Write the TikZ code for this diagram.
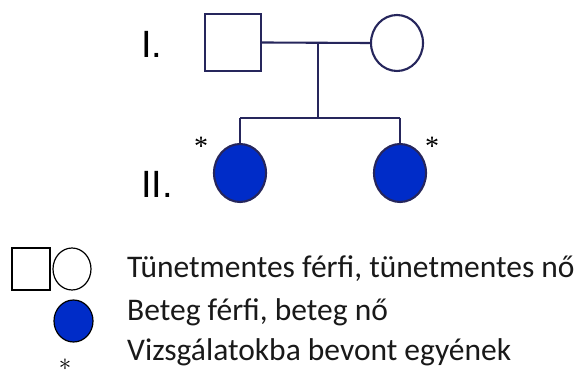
\documentclass[tikz,border=0pt]{standalone}
\usepackage{fontspec}
\usetikzlibrary{shapes.geometric}
\setmainfont{Carlito}
\newfontfamily\gensans{Liberation Sans}
\newfontfamily\starfont{Liberation Serif}
\begin{document}
\begin{tikzpicture}[x=1pt,y=-1pt,
  pedline/.style={draw=pedblue,line width=2.1pt},
  healthy/.style={draw=pedblue,line width=2.1pt,fill=white},
  affected/.style={draw=pedblue,line width=2.1pt,fill=sickblue},
  gen/.style={font=\gensans\fontsize{38}{40}\selectfont,inner sep=0pt,anchor=base west},
  legtext/.style={font=\fontsize{31.5}{34}\selectfont,inner sep=0pt,anchor=base west,text=black!90},
  star/.style={font=\starfont\fontsize{28}{30}\selectfont,inner sep=0pt},
  legsym/.style={draw=black,line width=1.2pt}]
\definecolor{pedblue}{RGB}{38,38,92}
\definecolor{sickblue}{RGB}{0,44,200}
\useasboundingbox (0,0) rectangle (580,371);

% generation labels
\node[gen] (g1) at (141,58) {I.};
\node[gen] (g2) at (141,197) {II.};

% parents
\node[healthy,rectangle,minimum width=56pt,minimum height=57pt,inner sep=0pt] (father) at (233,42.5) {};
\node[healthy,ellipse,minimum width=52pt,minimum height=56pt,inner sep=0pt] (mother) at (397,43) {};
\coordinate (mid) at (318,43);
\coordinate (sib) at (318,118);
\coordinate (sibL) at (240,118);
\coordinate (sibR) at (400,118);

% daughters
\node[affected,ellipse,minimum width=52pt,minimum height=58pt,inner sep=0pt] (d1) at (240,173) {};
\node[affected,ellipse,minimum width=52pt,minimum height=58pt,inner sep=0pt] (d2) at (400,173) {};
\node[star] (s1) at (201,146) {*};
\node[star] (s2) at (432,146) {*};

% connectors
\draw[pedline] (father.east) -- (mother.west);
\draw[pedline] (mid) -- (sib);
\draw[pedline] (sibL) -- (sibR);
\draw[pedline] (sibL) -- (d1.north);
\draw[pedline] (sibR) -- (d2.north);

% legend
\node[legsym,rectangle,minimum width=38pt,minimum height=42pt,inner sep=0pt] (lsq) at (31,269) {};
\node[legsym,ellipse,minimum width=38pt,minimum height=42pt,inner sep=0pt] (lci) at (72,269) {};
\node[legsym,ellipse,fill=sickblue,minimum width=39pt,minimum height=42pt,inner sep=0pt] (laf) at (73.5,321) {};
\node[font=\fontsize{28}{30}\selectfont,inner sep=0pt,anchor=base] (lst) at (65,370.5) {$\ast$};

\node[legtext] (t1) at (127,277) {Tünetmentes férfi, tünetmentes nő};
\node[legtext] (t2) at (127,320) {Beteg férfi, beteg nő};
\node[legtext] (t3) at (127,360) {Vizsgálatokba bevont egyének};
\end{tikzpicture}
\end{document}
